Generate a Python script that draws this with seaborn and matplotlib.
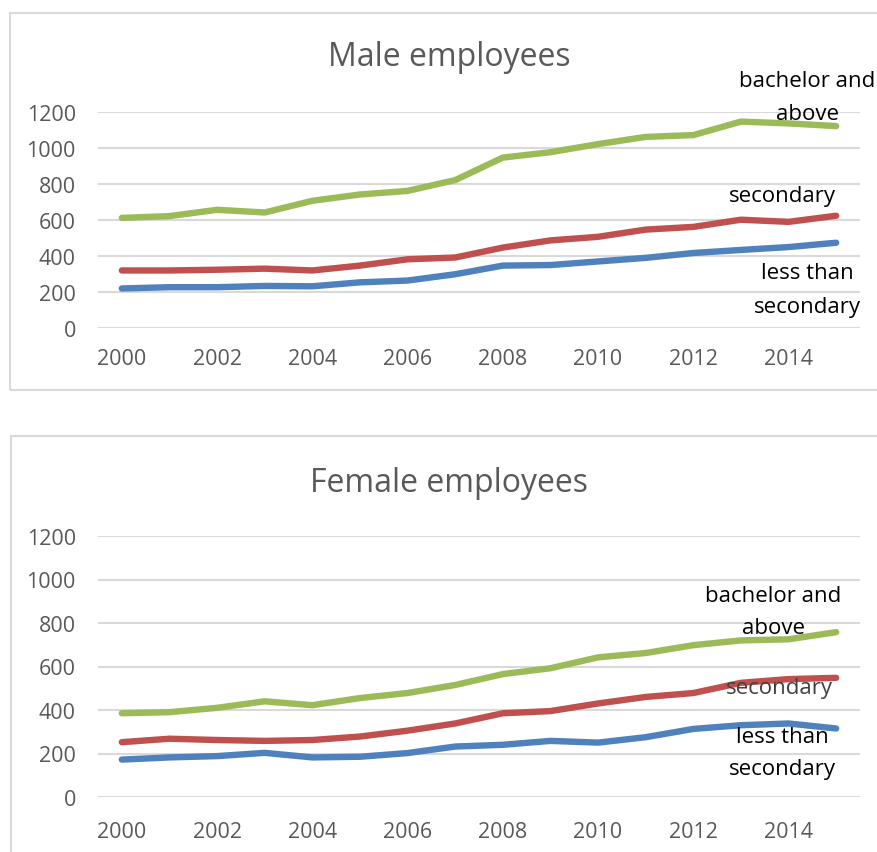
import matplotlib
matplotlib.use("Agg")
import matplotlib.pyplot as plt
from matplotlib.patches import Rectangle
import seaborn as sns
import pandas as pd

years = list(range(2000, 2016))
series_names = ["less than secondary", "secondary", "bachelor and above"]

male_less = [218, 225, 225, 232, 230, 252, 262, 297, 345, 348, 368, 388, 415, 432, 448, 472]
male_secondary = [318, 318, 322, 328, 318, 345, 380, 390, 445, 485, 505, 545, 560, 600, 588, 622]
male_bachelor = [610, 620, 655, 640, 705, 740, 760, 820, 945, 975, 1020, 1060, 1070, 1145, 1135, 1120]

female_less = [172, 182, 188, 203, 182, 185, 202, 232, 240, 258, 250, 275, 313, 330, 338, 315]
female_secondary = [252, 268, 262, 258, 262, 278, 305, 338, 385, 395, 430, 460, 478, 525, 542, 548]
female_bachelor = [385, 390, 410, 440, 422, 455, 478, 515, 565, 592, 642, 662, 698, 720, 725, 758]

x_ticks = [2000, 2002, 2004, 2006, 2008, 2010, 2012, 2014]
y_ticks = [0, 200, 400, 600, 800, 1000, 1200]

palette = {"less than secondary": "#4F81BD",
           "secondary": "#C0504D",
           "bachelor and above": "#9BBB59"}

sns.set_theme(style="white")
plt.rcParams["font.family"] = ["Open Sans", "DejaVu Sans"]


def long_frame(less, secondary, bachelor):
    rows = []
    for name, vals in zip(series_names, [less, secondary, bachelor]):
        for yr, v in zip(years, vals):
            rows.append({"year": yr, "value": v, "level": name})
    return pd.DataFrame(rows)


W, H = 877, 853
fig = plt.figure(figsize=(W / 100, H / 100), dpi=100)

# light frames around each chart
for (x0, y0, x1, y1) in [(10, 14, 890, 391), (11, 437, 890, 870)]:
    fig.patches.append(Rectangle((x0 / W, 1 - y1 / H), (x1 - x0) / W, (y1 - y0) / H,
                                 transform=fig.transFigure, fill=False,
                                 edgecolor="#D9D9D9", linewidth=1.5, zorder=0))


def px_axes(left, right, top, bottom):
    return fig.add_axes([left / W, 1 - bottom / H, (right - left) / W, (bottom - top) / H])


def style_axes(ax, title, title_y, xpad):
    ax.set_xlim(1999.5, 2015.5)
    ax.set_ylim(0, 1200)
    ax.set_yticks(y_ticks)
    ax.set_xticks(x_ticks)
    ax.set_xticklabels([str(t) for t in x_ticks])
    ax.yaxis.grid(True, color="#D9D9D9", linewidth=1.5)
    ax.xaxis.grid(False)
    ax.set_axisbelow(True)
    for s in ax.spines.values():
        s.set_visible(False)
    ax.tick_params(axis="both", length=0, labelsize=15.5, colors="#595959")
    ax.tick_params(axis="y", pad=16)
    ax.tick_params(axis="x", pad=xpad)
    ax.set_xlabel("")
    ax.set_ylabel("")
    if ax.get_legend() is not None:
        ax.get_legend().remove()
    fig.text(449 / W, 1 - title_y / H, title, ha="center", va="center",
             fontsize=23, color="#595959")


# Male employees
ax1 = px_axes(98, 860, 112.7, 328.7)
sns.lineplot(data=long_frame(male_less, male_secondary, male_bachelor),
             x="year", y="value", hue="level", palette=palette,
             linewidth=4.6, ax=ax1, clip_on=False, legend=False)
style_axes(ax1, "Male employees", 58, 14.5)
lab = dict(ha="center", va="center", fontsize=16, color="black")
ax1.text(2014.4, 1372, "bachelor and", **lab)
ax1.text(2014.4, 1190, "above", **lab)
ax1.text(2013.87, 737, "secondary", **lab)
ax1.text(2014.4, 304, "less than", **lab)
ax1.text(2014.4, 120, "secondary", **lab)

# Female employees
ax2 = px_axes(98, 860, 537, 798)
sns.lineplot(data=long_frame(female_less, female_secondary, female_bachelor),
             x="year", y="value", hue="level", palette=palette,
             linewidth=4.6, ax=ax2, clip_on=False, legend=False)
style_axes(ax2, "Female employees", 484, 17.5)
ax2.text(2013.68, 927, "bachelor and", **lab)
ax2.text(2013.68, 780, "above", **lab)
ax2.text(2013.8, 505, "secondary", ha="center", va="center", fontsize=16, color="#404040")
ax2.text(2013.87, 280, "less than", **lab)
ax2.text(2013.87, 133, "secondary", **lab)

fig.savefig("out.png", dpi=100)
